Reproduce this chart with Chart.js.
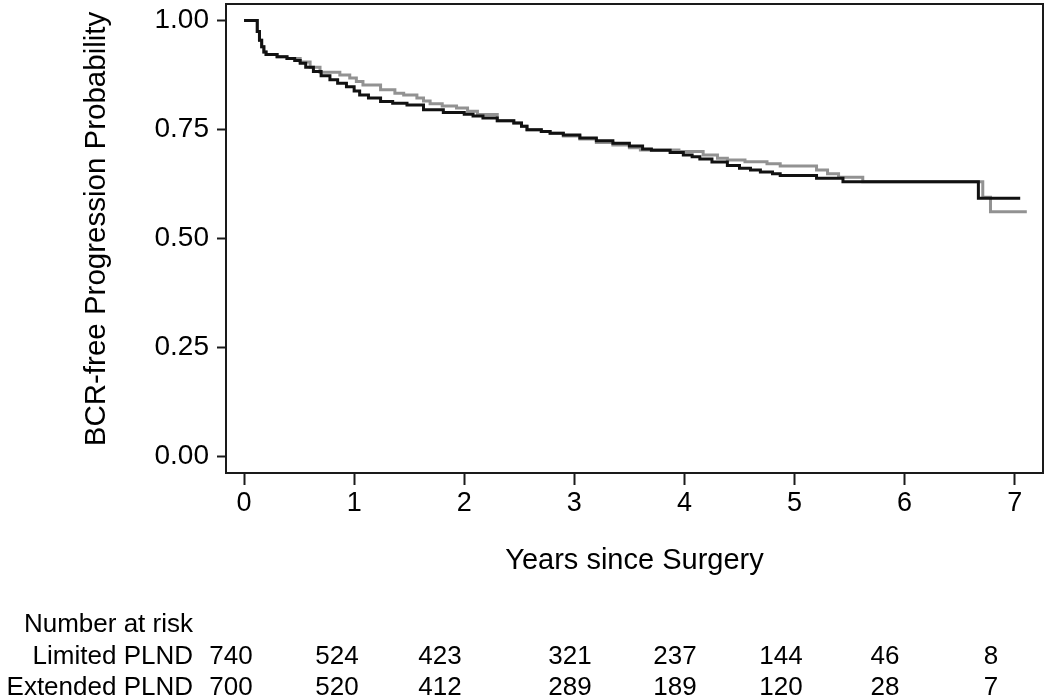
<!DOCTYPE html>
<html><head><meta charset="utf-8">
<script src="https://cdn.jsdelivr.net/npm/chart.js@4.4.1/dist/chart.umd.min.js"></script>
<style>html,body{margin:0;padding:0;background:#fff;}canvas{display:block;}</style>
</head><body>
<canvas id="c" width="1050" height="696"></canvas>
<script>
// ---- Data (Kaplan-Meier step points) ----
const limitedTime = [0, 0.12, 0.14, 0.16, 0.18, 0.20, 0.30, 0.39, 0.46, 0.51, 0.56, 0.63, 0.70, 0.78, 0.85, 0.93, 1.00, 1.05, 1.13, 1.24, 1.35, 1.48, 1.63, 1.81, 2.00, 2.08, 2.17, 2.30, 2.45, 2.52, 2.57, 2.70, 2.78, 2.90, 3.05, 3.20, 3.35, 3.50, 3.62, 3.70, 3.87, 3.99, 4.07, 4.14, 4.25, 4.39, 4.50, 4.60, 4.69, 4.80, 4.87, 5.20, 5.44, 6.67, 7.05];
const limitedSurv = [1.0, 0.975, 0.955, 0.94, 0.928, 0.922, 0.917, 0.913, 0.908, 0.902, 0.893, 0.883, 0.873, 0.864, 0.856, 0.848, 0.838, 0.829, 0.822, 0.814, 0.810, 0.806, 0.795, 0.789, 0.785, 0.781, 0.776, 0.770, 0.765, 0.757, 0.749, 0.745, 0.741, 0.737, 0.730, 0.724, 0.718, 0.712, 0.705, 0.702, 0.697, 0.691, 0.687, 0.682, 0.675, 0.667, 0.661, 0.657, 0.652, 0.648, 0.644, 0.638, 0.630, 0.592, 0.592];
const extendedTime = [0, 0.12, 0.14, 0.16, 0.18, 0.20, 0.30, 0.39, 0.51, 0.60, 0.69, 0.87, 0.96, 1.02, 1.08, 1.24, 1.37, 1.45, 1.57, 1.63, 1.69, 1.80, 1.93, 2.03, 2.12, 2.30, 2.45, 2.52, 2.57, 2.70, 2.78, 2.90, 3.05, 3.20, 3.35, 3.50, 3.60, 3.95, 4.17, 4.30, 4.39, 4.55, 4.75, 4.87, 5.20, 5.30, 5.40, 5.62, 6.71, 6.78, 7.11];
const extendedSurv = [1.0, 0.975, 0.955, 0.94, 0.928, 0.922, 0.917, 0.913, 0.905, 0.893, 0.881, 0.875, 0.868, 0.860, 0.852, 0.841, 0.833, 0.829, 0.822, 0.815, 0.809, 0.804, 0.799, 0.792, 0.784, 0.770, 0.765, 0.757, 0.749, 0.745, 0.741, 0.735, 0.728, 0.720, 0.714, 0.708, 0.703, 0.699, 0.691, 0.684, 0.680, 0.676, 0.671, 0.666, 0.657, 0.648, 0.640, 0.630, 0.594, 0.561, 0.561];

const xTickValues = [0, 1, 2, 3, 4, 5, 6, 7];
const yTickValues = [0, 0.25, 0.5, 0.75, 1];
const yTitle = 'BCR-free Progression Probability';
const xTitle = 'Years since Surgery';
const riskHeader = 'Number at risk';
const riskGroups = ['Limited PLND', 'Extended PLND'];
const riskLimited = [740, 524, 423, 321, 237, 144, 46, 8];
const riskExtended = [700, 520, 412, 289, 189, 120, 28, 7];

const FONT = '"Liberation Sans", Arial, Helvetica, sans-serif';
const toPts = (t, s) => t.map((x, i) => ({x: x, y: s[i]}));

const frameAndRiskTable = {
  id: 'frameAndRiskTable',
  afterDraw(chart) {
    const ctx = chart.ctx, a = chart.chartArea;
    ctx.save();
    ctx.strokeStyle = '#1a1a1a';
    ctx.lineWidth = 2;
    ctx.strokeRect(a.left, a.top, a.right - a.left, a.bottom - a.top);
    ctx.fillStyle = '#000';
    // y-axis title (rotated)
    ctx.save();
    ctx.translate(97, 229);
    ctx.rotate(-Math.PI / 2);
    ctx.font = '29.5px ' + FONT;
    ctx.textAlign = 'center';
    ctx.textBaseline = 'middle';
    ctx.fillText(yTitle, 0, 0);
    ctx.restore();
    // number-at-risk table
    ctx.font = '26px ' + FONT;
    ctx.textBaseline = 'alphabetic';
    ctx.textAlign = 'right';
    const labelRight = 193;
    const rowsY = [664, 695];
    ctx.fillText(riskHeader, labelRight, 632);
    ctx.fillText(riskGroups[0], labelRight, rowsY[0]);
    ctx.fillText(riskGroups[1], labelRight, rowsY[1]);
    const colX = [231, 337, 440, 570, 675, 781, 885, 991];
    ctx.textAlign = 'center';
    [riskLimited, riskExtended].forEach((row, r) =>
      row.forEach((n, i) => ctx.fillText(String(n), colX[i], rowsY[r])));
    ctx.restore();
  }
};

new Chart(document.getElementById('c'), {
  type: 'line',
  data: {
    datasets: [
      {label: riskGroups[0], data: toPts(limitedTime, limitedSurv), borderColor: '#111111', borderWidth: 3, stepped: true, pointRadius: 0, fill: false, order: 0},
      {label: riskGroups[1], data: toPts(extendedTime, extendedSurv), borderColor: '#929292', borderWidth: 3, stepped: true, pointRadius: 0, fill: false, order: 1}
    ]
  },
  options: {
    responsive: false,
    animation: false,
    devicePixelRatio: 1,
    layout: {padding: {left: 0, right: 7, top: 4, bottom: 106}},
    plugins: {legend: {display: false}, tooltip: {enabled: false}},
    scales: {
      x: {
        type: 'linear', min: -0.164, max: 7.257,
        afterBuildTicks: s => { s.ticks = xTickValues.map(v => ({value: v})); },
        afterFit: s => { s.height = 117; s.paddingLeft = 0; s.paddingRight = 0; },
        grid: {display: true, drawOnChartArea: false, drawTicks: true, tickLength: 12, tickColor: '#1a1a1a', tickWidth: 2},
        border: {display: false},
        ticks: {color: '#000', font: {family: FONT, size: 27}, padding: 2, maxRotation: 0, autoSkip: false, callback: v => String(v)},
        title: {display: true, text: xTitle, color: '#000', font: {family: FONT, size: 29}, padding: {top: 0, bottom: 12}}
      },
      y: {
        type: 'linear', min: -0.039, max: 1.038,
        afterBuildTicks: s => { s.ticks = yTickValues.map(v => ({value: v})); },
        afterFit: s => { s.width = 226; s.paddingTop = 0; s.paddingBottom = 0; },
        grid: {display: true, drawOnChartArea: false, drawTicks: true, tickLength: 9, tickColor: '#1a1a1a', tickWidth: 2},
        border: {display: false},
        ticks: {color: '#000', font: {family: FONT, size: 28}, padding: 8, autoSkip: false, callback: v => Number(v).toFixed(2)},
        title: {display: false}
      }
    }
  },
  plugins: [frameAndRiskTable]
});
</script>
</body></html>
